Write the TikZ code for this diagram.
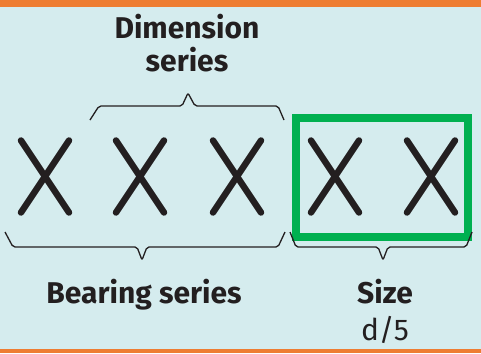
\documentclass[tikz,border=0pt]{standalone}
\usepackage{fontspec}
\setmainfont{Fira Sans}
\definecolor{bgblue}{HTML}{D5ECEE}
\definecolor{bandorange}{HTML}{EE7D32}
\definecolor{boxgreen}{HTML}{00B050}
\definecolor{inkdark}{HTML}{231F20}
\tikzset{
	label/.style={text=inkdark, font=\fontsize{30}{33}\selectfont\bfseries, inner sep=0pt},
	brace/.style={draw=inkdark, line width=1.3pt, rounded corners=2pt},
	cross/.style={draw=inkdark, line width=6.5pt, line cap=round}
}
\newcommand{\bigX}[1]{%
	\draw[cross] ($(#1)+(-24,-36)$) -- ($(#1)+(24,36)$);
	\draw[cross] ($(#1)+(24,-36)$) -- ($(#1)+(-24,36)$);}
\usetikzlibrary{calc}
\begin{document}
\begin{tikzpicture}[x=1pt, y=-1pt]
	\fill[bgblue] (0,0) rectangle (481,353);
	\fill[bandorange] (0,0) rectangle (481,7);
	\fill[bandorange] (0,349) rectangle (481,353);
	% the five letters
	\coordinate (x1) at (45,176.5);
	\coordinate (x2) at (140,176.5);
	\coordinate (x3) at (237,176.5);
	\coordinate (x4) at (335,176.5);
	\coordinate (x5) at (431,176.5);
	\bigX{x1}
	\bigX{x2}
	\bigX{x3}
	\bigX{x4}
	\bigX{x5}
	\node[draw=boxgreen, line width=8pt, minimum width=172pt, minimum height=119pt] (sizeBox) at (382,177) {};
	% braces
	\draw[brace] (90,120) -- (99,106) -- (182,106) -- (188,93) -- (195,106) -- (278,106) -- (284,120);
	\draw[brace] (5,232) -- (13,247) -- (137,247) -- (142,260) -- (147,247) -- (278,247) -- (285,232);
	\draw[brace] (290,232) -- (296,247) -- (378,247) -- (383,260) -- (388,247) -- (466,247) -- (472,232);
	% labels
	\node[label, anchor=base] (dimText) at (187,38) {Dimension};
	\node[label, anchor=base] (dimText2) at (187,71) {series};
	\node[label, anchor=base] (bearingText) at (144,303) {Bearing series};
	\node[label, anchor=base] (sizeText) at (385,303) {Size};
	\node[label, anchor=base, font=\fontsize{30}{33}\selectfont\mdseries] (sizeRule) at (385,340) {d/5};
\end{tikzpicture}
\end{document}
